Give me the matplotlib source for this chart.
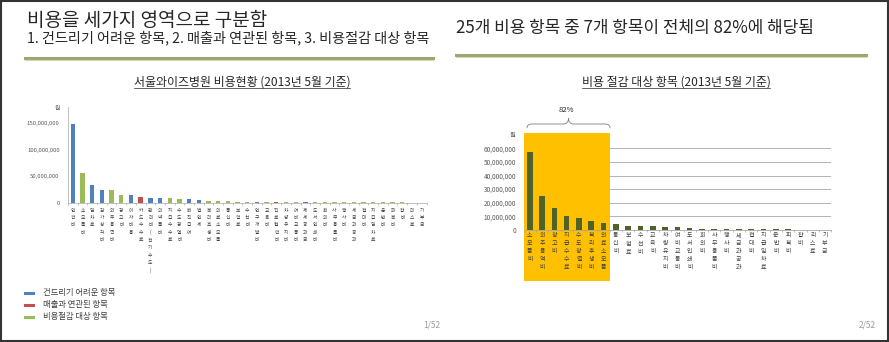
import matplotlib.pyplot as plt
from matplotlib.patches import Rectangle, PathPatch
from matplotlib.path import Path
from matplotlib.lines import Line2D

plt.rcParams['font.family'] = ['Noto Sans CJK KR', 'DejaVu Sans']

# --- data: left chart (all cost items), right chart (cost-saving items) ---
left_items = ["인건비", "소모품비", "임차료", "감가상각비", "외주용역비", "광고비", "이자비용",
              "카드수수료", "관리비(전기수도)", "의약품비", "지급수수료", "수도광열비", "퇴직급여",
              "법인세", "복리후생비", "의료소모품", "통신비", "보험료", "수선비", "연구개발비",
              "교육비", "진료협력비", "차량유지비", "여비교통비", "제세공과금", "도서인쇄비",
              "회의비", "사무용품비", "행사비", "세금과공과", "접대비", "지급임차료", "운반비",
              "피복비", "잡비", "리스료", "기부금"]
left_values = [148.7, 56.7, 33.4, 24.0, 24.0, 13.9, 13.9, 10.0, 8.8, 8.8, 8.8, 6.9, 6.9,
               4.4, 3.2, 2.5, 2.3, 2.0, 1.9, 1.6, 1.5, 1.4, 1.3, 1.2, 1.1, 1.0, 0.9, 0.8,
               0.7, 0.6, 0.6, 0.5, 0.5, 0.4, 0.4, 0.3, 0.3]  # 백만원
# 0 = 건드리기 어려운, 1 = 매출과 연관된, 2 = 비용절감 대상
left_groups = [0, 2, 0, 0, 2, 2, 0, 1, 0, 0, 2, 2, 0, 0, 2, 2, 2, 2, 2, 0, 2, 1, 2, 2, 0,
               2, 2, 2, 2, 2, 2, 2, 2, 2, 2, 2, 2]
group_names = ["건드리기 어려운 항목", "매출과 연관된 항목", "비용절감 대상 항목"]
group_colors = ["#4f81bd", "#c0504d", "#9bbb59"]
left_ticks = [0, 50, 100, 150]

right_items = ["소모품비", "외주용역비", "광고비", "지급수수료", "수도광열비", "복리후생비",
               "의료소모품", "통신비", "보험료", "수선비", "교육비", "차량유지비", "여비교통비",
               "도서인쇄비", "회의비", "사무용품비", "행사비", "세금과공과", "접대비",
               "지급임차료", "운반비", "피복비", "잡비", "리스료", "기부금"]
right_values = [57.0, 25.0, 16.0, 10.0, 9.0, 6.5, 5.5, 4.3, 2.6, 2.6, 2.6, 2.3, 2.3, 1.8,
                0.8, 0.7, 0.6, 0.6, 0.5, 0.5, 0.4, 0.4, 0.3, 0.3, 0.2]  # 백만원
right_ticks = [0, 10, 20, 30, 40, 50, 60]
top_n = 7
top_share = "82%"

W, H = 889, 342
fig = plt.figure(figsize=(W / 100, H / 100), dpi=100)


def fx(x):
    return x / W


def fy(y):
    return 1 - y / H


def stacked(s):
    return "\n".join(list(s))


def fmt(v):
    return "{:,}".format(int(v * 1_000_000))


# --- slide headers ---
fig.text(fx(27), fy(20), "비용을 세가지 영역으로 구분함", fontsize=13.7, color="#262626", va="center")
fig.text(fx(27), fy(37.5), "1. 건드리기 어려운 항목, 2. 매출과 연관된 항목, 3. 비용절감 대상 항목",
         fontsize=10.2, color="#262626", va="center")
fig.text(fx(456), fy(28.5), "25개 비용 항목 중 7개 항목이 전체의 82%에 해당됨", fontsize=12.2,
         color="#262626", va="center")
for x0, x1, y in [(25, 433, 57.5), (456, 866, 54.5)]:
    fig.add_artist(Line2D([fx(x0), fx(x1)], [fy(y), fy(y)], color="#9ea66d", lw=2.2))
    fig.add_artist(Line2D([fx(x0), fx(x1)], [fy(y + 2.2), fy(y + 2.2)], color="#d3d8bd", lw=0.8))

t1 = fig.text(fx(242), fy(82), "서울와이즈병원 비용현황 (2013년 5월 기준)", fontsize=8.6,
              color="#262626", ha="center", va="center")
t2 = fig.text(fx(676), fy(82), "비용 절감 대상 항목 (2013년 5월 기준)", fontsize=8.6,
              color="#262626", ha="center", va="center")

fig.text(fx(432), fy(325), "1/52", fontsize=6, color="#9a9a9a", ha="center", va="center")
fig.text(fx(867), fy(325), "2/52", fontsize=6, color="#9a9a9a", ha="center", va="center")

# --- left chart ---
ax1 = fig.add_axes([fx(68), fy(202.7), 358.5 / W, 96 / H])
xs = list(range(len(left_items)))
ax1.bar(xs, left_values, width=0.45, color=[group_colors[g] for g in left_groups], zorder=2)
ax1.set_xlim(-0.5, len(left_items) - 0.5)
ax1.set_ylim(0, 181)
ax1.set_yticks(left_ticks)
ax1.set_yticklabels([fmt(v) for v in left_ticks], fontsize=4.3, color="#595959")
ax1.set_xticks(xs)
ax1.set_xticklabels([stacked(s) for s in left_items], fontsize=3.4, color="#404040",
                    linespacing=1.6, va="top")
ax1.set_xticks([x - 0.5 for x in xs] + [len(xs) - 0.5], minor=True)
ax1.tick_params(axis="x", which="major", length=0, pad=3.5)
ax1.tick_params(axis="x", which="minor", length=1.5, width=0.5, color="#a6a6a6")
ax1.tick_params(axis="y", length=0, pad=6)
for s in ["top", "right"]:
    ax1.spines[s].set_visible(False)
ax1.spines["left"].set_color("#a6a6a6")
ax1.spines["bottom"].set_color("#a6a6a6")
ax1.spines["left"].set_linewidth(0.5)
ax1.spines["bottom"].set_linewidth(0.5)
fig.text(fx(58), fy(109), "원", fontsize=4.3, color="#595959", ha="center", va="center")

# legend of the left slide
for i, (name, col) in enumerate(zip(group_names, group_colors)):
    y = 292.5 + i * 12
    fig.add_artist(Line2D([fx(25), fx(33)], [fy(y), fy(y)], color=col, lw=2.2))
    fig.text(fx(43), fy(y), name, fontsize=6.0, color="#404040", va="center")

# --- right chart ---
ax2 = fig.add_axes([fx(523.6), fy(230), 307.5 / W, 88.5 / H])
xs2 = list(range(len(right_items)))
for v in right_ticks[1:]:
    ax2.axhline(v, color="#a6a6a6", lw=0.6, zorder=0.3)
ax2.add_patch(Rectangle((-0.5, -37.4), top_n, 108.6, facecolor="#ffc000", edgecolor="none",
                        clip_on=False, zorder=0.6))
ax2.bar(xs2, right_values, width=0.45, color="#4f6228", zorder=2)
ax2.set_xlim(-0.5, len(right_items) - 0.5)
ax2.set_ylim(0, 65)
ax2.set_yticks(right_ticks)
ax2.set_yticklabels([fmt(v) for v in right_ticks], fontsize=4.6, color="#595959")
ax2.set_xticks(xs2)
ax2.set_xticklabels([stacked(s) for s in right_items], fontsize=4.3, color="#404040",
                    linespacing=1.75, va="top")
ax2.set_xticks([x - 0.5 for x in xs2] + [len(xs2) - 0.5], minor=True)
ax2.tick_params(axis="x", which="major", length=0, pad=2.5)
ax2.tick_params(axis="x", which="minor", length=1.5, width=0.5, color="#a6a6a6")
ax2.tick_params(axis="y", length=0, pad=5.5)
for s in ["top", "right", "left"]:
    ax2.spines[s].set_visible(False)
ax2.spines["bottom"].set_color("#a6a6a6")
ax2.spines["bottom"].set_linewidth(0.6)
fig.text(fx(513), fy(135), "원", fontsize=4.6, color="#595959", ha="center", va="center")

# brace above the top items with their share
bx0, bx1, bmid = 527, 610, 568.5
verts = [(bx0, 128), (bx0, 124), (bx0 + 5, 124), (bmid - 5, 124), (bmid, 124), (bmid, 118),
         (bmid, 124), (bmid + 5, 124), (bx1 - 5, 124), (bx1, 124), (bx1, 128)]
codes = [Path.MOVETO, Path.CURVE3, Path.CURVE3, Path.LINETO, Path.CURVE3, Path.CURVE3,
         Path.CURVE3, Path.CURVE3, Path.LINETO, Path.CURVE3, Path.CURVE3]
brace = Path([(fx(x), fy(y)) for x, y in verts], codes)
fig.add_artist(PathPatch(brace, facecolor="none", edgecolor="#7f7f7f", lw=0.6,
                         transform=fig.transFigure))
fig.text(fx(566), fy(110), top_share, fontsize=5.5, color="#262626", ha="center", va="center")

# underline chart titles
fig.canvas.draw()
rend = fig.canvas.get_renderer()
for t in [t1, t2]:
    bb = t.get_window_extent(rend)
    y = (bb.y0 + 0.5) / fig.bbox.height
    fig.add_artist(Line2D([bb.x0 / fig.bbox.width, bb.x1 / fig.bbox.width], [y, y],
                          color="#262626", lw=0.5))

# frame around the picture
fig.add_artist(Rectangle((0.001, 0.002), 0.998, 0.996, transform=fig.transFigure,
                         facecolor="none", edgecolor="#333333", lw=1.5))

fig.savefig("out.png", dpi=100)
